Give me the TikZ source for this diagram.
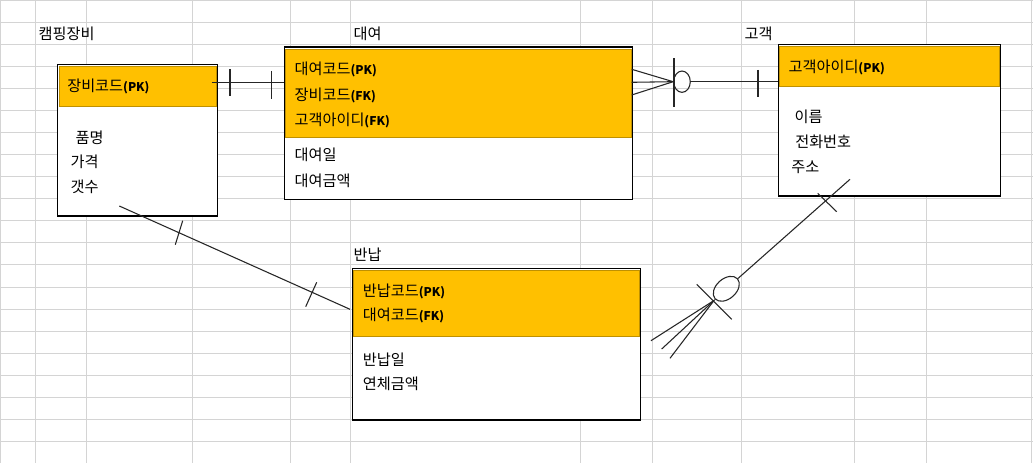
\documentclass[tikz,border=0pt]{standalone}
\usepackage{fontspec}
\setmainfont{Noto Sans CJK KR}
\usetikzlibrary{fit,shapes.geometric}
\definecolor{gridc}{HTML}{D4D4D4}
\definecolor{hdr}{HTML}{FFC000}
\definecolor{hdrline}{HTML}{BF9000}
\newcommand\keytag[1]{{\fontsize{9}{11}\selectfont\bfseries(#1)}}
\begin{document}
\begin{tikzpicture}[x=0.75pt,y=-0.75pt,
  gridline/.style={draw=gridc, line width=0.75pt},
  entity/.style={draw=black, fill=white, line width=0.85pt, inner sep=0pt},
  header/.style={fill=hdr, draw=hdrline, line width=0.6pt, inner sep=0pt},
  txt/.style={inner sep=0pt, anchor=base west, font=\fontsize{11.4}{13}\selectfont, yshift=-1.1pt},
  conn/.style={draw=black!85, line width=0.8pt},
  ring/.style={draw=black!85, line width=0.8pt, ellipse, inner sep=0pt}]
\useasboundingbox (0,0) rectangle (1033,463);
\fill[white] (0,0) rectangle (1033,463);
% spreadsheet grid
\foreach \k in {0,...,21} \draw[gridline] (0,{\k*22.04+0.5}) -- (1033,{\k*22.04+0.5});
\foreach \xx in {0.5,35.5,86.5,192.3,290.5,350.5,580.7,652.3,741.7,854.3,926.5,1031.5}
  \draw[gridline] (\xx,0) -- (\xx,463);
% entities
\node[entity, fit={(57.7,64.3) (217.3,216)}] (camp) {};
\node[header, fit={(59,66) (216,106.7)}] (camph) {};
\node[entity, fit={(284.3,47) (632.3,199.3)}] (rent) {};
\node[header, fit={(285.5,49) (631,137.3)}] (renth) {};
\node[entity, fit={(778.3,44.3) (1000.7,196)}] (cust) {};
\node[header, fit={(779.5,46) (999.2,86.7)}] (custh) {};
\node[entity, fit={(352.3,268.7) (640.7,420)}] (ret) {};
\node[header, fit={(353.5,270) (639.2,336.7)}] (reth) {};
% titles
\node[txt] (tcamp) at (38.3,38.5) {캠핑장비};
\node[txt] (trent) at (353.3,38.5) {대여};
\node[txt] (tcust) at (744.3,38.5) {고객};
\node[txt] (tret) at (353.3,259) {반납};
% camping fields
\node[txt] (c1) at (67,90.5) {장비코드\keytag{PK}};
\node[txt] (c2) at (75.3,142) {품명};
\node[txt] (c3) at (70.3,166.5) {가격};
\node[txt] (c4) at (70.3,191.5) {갯수};
% rent fields
\node[txt] (r1) at (294.3,73.5) {대여코드\keytag{PK}};
\node[txt] (r2) at (294.3,99) {장비코드\keytag{FK}};
\node[txt] (r3) at (294.3,124.5) {고객아이디\keytag{FK}};
\node[txt] (r4) at (294.3,159.5) {대여일};
\node[txt] (r5) at (294.3,185) {대여금액};
% customer fields
\node[txt] (u1) at (788.3,71) {고객아이디\keytag{PK}};
\node[txt] (u2) at (794.3,121) {이름};
\node[txt] (u3) at (795,146) {전화번호};
\node[txt] (u4) at (791,171) {주소};
% return fields
\node[txt] (n1) at (362.6,295) {반납코드\keytag{PK}};
\node[txt] (n2) at (362.6,319) {대여코드\keytag{FK}};
\node[txt] (n3) at (362.6,364) {반납일};
\node[txt] (n4) at (362.6,388.5) {연체금액};
% camp -- rent : one and only one
\coordinate (a1) at (211.7,82.3);
\draw[conn] (a1) -- (a1 -| rent.west);
\draw[conn] (230,69.3) -- (230,95.7);
\draw[conn] (271.7,71) -- (271.7,99);
% rent -- customer : zero or many / one
\node[ring, minimum width=12.45pt, minimum height=16pt] (o1) at (682,81.7) {};
\coordinate (k1) at (o1.west);
\coordinate (f1) at (631.7,69.3);
\coordinate (f2) at (631.7,82.3);
\coordinate (f3) at (631.7,95);
\draw[conn] (f1) -- (k1) -- (f3);
\draw[conn] (f2) -- (k1);
\draw[conn] (674,58.3) -- (674,107.3);
\draw[conn] (o1) -- (o1 -| cust.west);
\draw[conn] (758,70) -- (758,97.3);
% camp -- return
\coordinate (b1) at (119.3,206);
\coordinate (b2) at (350,309.3);
\draw[conn] (b1) -- (b2);
\draw[conn] (182.7,220.7) -- (175.3,244.7);
\draw[conn] (316.7,282.3) -- (305.7,306.7);
% return -- customer
\node[ring, minimum width=22.5pt, minimum height=15pt, rotate=41.7] (o2) at (726.3,288.8) {};
\coordinate (k2) at (714,300.5);
\coordinate (g1) at (651,340.7);
\coordinate (g2) at (661.7,349);
\coordinate (g3) at (670,358.3);
\coordinate (d2) at (850,179.3);
\draw[conn] (g1) -- (k2) -- (g3);
\draw[conn] (g2) -- (k2);
\draw[conn] (696.7,284.3) -- (731.7,319.3);
\draw[conn] (o2) -- (d2);
\draw[conn] (817.7,193.3) -- (836.7,211.7);
\end{tikzpicture}
\end{document}
